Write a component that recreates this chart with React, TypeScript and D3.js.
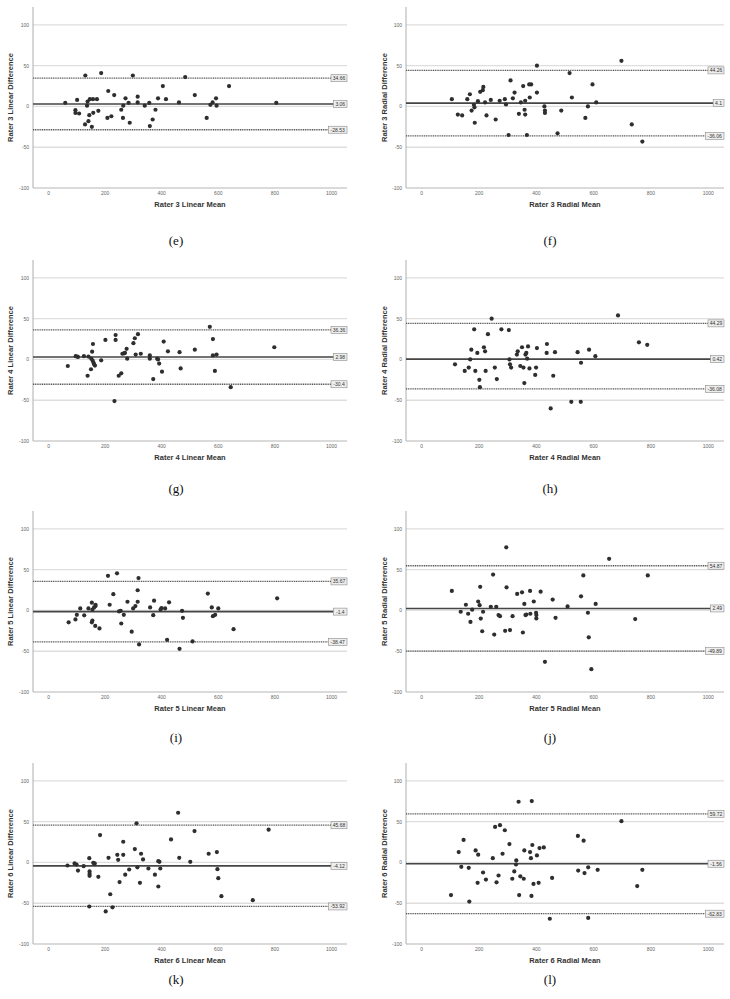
import * as d3 from "d3";

// Bland-Altman plots, raters 3-6, linear and radial (mean vs difference)
const rater3Linear: [number, number][] = [
  [59, 4.5], [130, 38], [186, 41], [101, 8], [95, -4.5], [95, -8], [108, -8.6], [136, 1], [138, 6],
  [146, 9], [157, 9], [171, 9], [144, -10.7], [158, -7.8], [176, -5.3], [129, -22], [141, -18],
  [153, -25], [211, 19], [232, 14], [208, -14], [222, -12], [272, 10], [257, -4], [264, 1],
  [263, -14], [283, 4.5], [287, -20], [298, 38], [315, 12], [315, 5], [340, 1], [356, 4.5],
  [358, -24], [368, -16], [378, -4], [387, 10], [404, 25], [415, 9], [461, 5], [483, 36],
  [517, 14], [559, -14], [572, 2], [580, 5], [592, 10], [594, 1], [638, 25], [805, 4.5],
];
const rater3Radial: [number, number][] = [
  [105, 9], [126, -10], [141, -11], [159, 9], [168, 15], [174, -5], [182, 2], [184, -1], [185, -20],
  [196, 6.5], [204, 18], [213, 20], [215, 24], [221, 5], [226, -11], [241, 8], [258, -16], [272, 7],
  [290, 9], [294, 2.5], [303, -35], [310, 32], [318, 10], [324, 17], [339, -9], [346, 5], [354, 25],
  [359, -4], [361, 7], [361, -10], [367, -35], [375, 27], [382, 27], [377, 11], [402, 50], [402, 17],
  [428, 0], [430, -5], [430, -8], [474, -33], [487, -5], [516, 41], [524, 11], [571, -14], [580, 0],
  [596, 27], [609, 5], [697, 56], [733, -22], [770, -43],
];
const rater4Linear: [number, number][] = [
  [68, -8], [96, 4], [102, 3.5], [104, 3], [125, 4], [138, -20], [141, 3.5], [150, -12], [151, 1],
  [154, 9.5], [157, 19], [156, -1.5], [159, -4], [161, -6], [164, -7.5], [186, -1], [201, 24],
  [233, -51], [237, 30], [237, 24], [248, -20], [257, -17], [261, 7], [267, 7.5], [270, 8], [276, 13],
  [278, 1], [300, 20], [305, 26], [308, 6], [316, 31], [326, 7], [358, 5], [358, 1], [370, -24],
  [384, 1], [387, 0], [391, -5], [401, -15], [407, 22], [422, 10], [463, 9], [467, -11], [517, 12],
  [570, 40], [581, 25], [581, 5], [588, -14], [594, 6], [644, -34], [798, 15],
];
const rater4Radial: [number, number][] = [
  [116, -6], [150, -14], [164, -10], [169, 0], [173, 12], [183, 37], [187, -14], [194, 8], [201, -25],
  [203, -34], [217, 15], [221, 10], [223, -14], [231, 31], [244, 50], [255, -10], [262, -24], [278, 37],
  [304, 36], [306, 0], [308, -6], [312, -10], [332, 6], [335, 10], [344, -8], [350, 15], [355, -10],
  [358, -29], [362, 6], [365, 8], [368, 1], [371, 16], [376, -11], [396, -19], [399, -10], [402, 14],
  [437, 19], [436, 8], [450, -60], [459, -20], [465, 9], [522, -52], [544, 9], [556, -4], [555, -52],
  [584, 12], [606, 4], [685, 54], [758, 21], [787, 18],
];
const rater5Linear: [number, number][] = [
  [71, -14.5], [95, -11], [100, -5.4], [112, 2.5], [126, -6], [141, 2.5], [153, 9.5], [155, 1],
  [153, -14.5], [155, -12.4], [161, 3.7], [166, 7], [166, 5.4], [165, -19], [180, -22], [210, 42.5],
  [216, 7], [229, 20], [242, 45.5], [249, -1.2], [255, -0.4], [257, -16], [266, -5.4], [279, 10.7],
  [294, -26], [299, 2.5], [307, 5.4], [315, 10.7], [315, 24.8], [318, 39.7], [320, -41.7], [359, 3.7],
  [370, -5.8], [373, 12], [396, 1.2], [399, 2.9], [412, 2.5], [419, -36], [426, 10], [463, -47],
  [472, -0.4], [475, -9], [509, -38], [563, 20.7], [577, 3.7], [581, -7], [589, -5.4], [600, 2.5],
  [654, -23], [808, 14.9],
];
const rater5Radial: [number, number][] = [
  [105, 24], [136, -1.6], [154, 7], [162, -4], [170, -14], [176, 1], [197, 11], [202, 6.5], [204, 29],
  [206, -10], [211, -25.5], [214, -1.6], [241, 4.5], [249, 44], [253, -29.6], [260, 4.5], [268, -5.7],
  [273, -7], [291, -25], [296, 28.4], [295, 77.5], [308, -24], [317, -7], [333, 20.3], [350, 22.3],
  [353, -27], [358, 8], [362, -5.7], [365, -5], [378, 24], [379, -4], [391, 11], [399, -2.8],
  [400, -5.7], [400, -9.7], [415, 23], [430, -63], [457, 13.4], [467, -9], [509, 4.9], [556, 17.4],
  [564, 43], [580, -2.8], [583, -33], [592, -72], [607, 8], [654, 63.3], [745, -10.5], [789, 43],
];
const rater6Linear: [number, number][] = [
  [67, -3.7], [92, -1.2], [99, -2.5], [104, -10], [124, -4.5], [144, 5.3], [145, -11], [145, -14],
  [145, -16.4], [144, -54], [158, -0.4], [162, -1.6], [163, -1.2], [176, -17.6], [182, 33.6],
  [202, -60], [212, 5.7], [218, -39], [226, -55], [243, 9.4], [246, 3.3], [251, -24], [264, 25.4],
  [264, 9.4], [271, -15], [285, -8.6], [305, 16.4], [311, 48], [314, -6], [323, -25], [327, 10.7],
  [334, 3.7], [353, -7.4], [376, -15], [388, 1.6], [388, -29.5], [392, 0.8], [395, -7.4], [433, 28.3],
  [458, 61], [462, 5.7], [501, 0.8], [516, 38.5], [566, 10.7], [595, 12.7], [597, -8.2], [600, -19.3],
  [611, -41.4], [722, -46.3], [778, 40.2],
];
const rater6Radial: [number, number][] = [
  [102, -40], [129, 12.8], [138, -5.3], [146, 27.6], [164, -6.6], [166, -48], [188, 14.8], [197, 9.5],
  [195, -25], [214, -12.3], [224, -21], [248, 5.3], [256, 43.6], [261, -24.3], [268, -16], [273, 45.7],
  [282, 10.7], [290, 39.5], [306, 22.6], [316, -20], [323, -11], [330, 2.5], [329, -2.5], [338, 74.5],
  [340, -40], [344, -17], [356, -20], [358, 14.8], [378, 12.8], [381, 5.3], [384, 75.3], [383, -41],
  [386, 21.4], [390, -26.3], [402, 8.6], [408, -25], [411, 17.7], [426, 18.5], [447, -69], [455, -19],
  [545, 32.5], [546, -9.9], [565, 26.7], [568, -13], [581, -68], [581, -6], [614, -9], [697, 50.6],
  [752, -29], [770, -9],
];

const panelData = [rater3Linear, rater3Radial, rater4Linear, rater4Radial, rater5Linear, rater5Radial, rater6Linear, rater6Radial];
const raters = [3, 3, 4, 4, 5, 5, 6, 6];
const kinds = ["Linear", "Radial", "Linear", "Radial", "Linear", "Radial", "Linear", "Radial"];
const captions = ["(e)", "(f)", "(g)", "(h)", "(i)", "(j)", "(k)", "(l)"];
const upperLimits = [34.66, 44.26, 36.36, 44.29, 35.67, 54.87, 45.68, 59.72];
const meanDiffs = [3.06, 4.1, 2.98, 0.42, -1.4, 2.49, -4.12, -1.56];
const lowerLimits = [-28.53, -36.06, -30.4, -36.08, -38.47, -49.89, -53.92, -62.83];
const yTicks = [100, 50, 0, -50, -100];
const xTicks = [0, 200, 400, 600, 800, 1000];

// layout
const colLeft = [33, 406];
const colWidth = [314, 318];
const rowBottom = [188, 441, 692, 944];
const captionY = [240, 488, 737, 979];
const captionX = [176, 550];
const yTitleX = [10, 384];
const plotH = 181;
const xDomain = [-55, 1055];
const yDomain = [-100, 122];

const sans = "'Liberation Sans', Arial, sans-serif";

function RefLine({ x0, x1, y, label, solid }: any) {
  const boxW = label.length * 2.6 + 3;
  return (
    <g>
      <line x1={x0} x2={x1 - boxW} y1={y} y2={y} stroke={solid ? "#454545" : "#555"}
        strokeWidth={solid ? 1.6 : 1.3} strokeDasharray={solid ? undefined : "1.1,0.7"} />
      <rect x={x1 - boxW} y={y - 3.5} width={boxW} height={7} fill="#eeeeee" stroke="#8a8a8a" strokeWidth={0.6} />
      <text x={x1 - boxW / 2} y={y + 1.9} fontSize={5} textAnchor="middle" fill="#333" fontFamily={sans}>{label}</text>
    </g>
  );
}

function Panel({ idx }: { idx: number }) {
  const col = idx % 2;
  const row = Math.floor(idx / 2);
  const left = colLeft[col];
  const right = left + colWidth[col];
  const bottom = rowBottom[row];
  const top = bottom - plotH;
  const x = d3.scaleLinear().domain(xDomain).range([left, right]);
  const y = d3.scaleLinear().domain(yDomain).range([bottom, top]);
  const pts = panelData[idx];
  return (
    <g>
      {yTicks.filter((t) => t !== -100).map((t) => (
        <line key={t} x1={left} x2={right} y1={y(t)} y2={y(t)} stroke="#dedede" strokeWidth={1.3} />
      ))}
      <line x1={left} x2={left} y1={top} y2={bottom} stroke="#9a9a9a" strokeWidth={0.8} />
      <line x1={left} x2={right} y1={bottom} y2={bottom} stroke="#b5b5b5" strokeWidth={1} />
      {yTicks.map((t) => (
        <text key={t} x={left - 4} y={y(t) + 1.8} fontSize={5} textAnchor="end" fill="#666" fontFamily={sans}>{t}</text>
      ))}
      {xTicks.map((t) => (
        <text key={t} x={x(t)} y={bottom + 7} fontSize={5} textAnchor="middle" fill="#666" fontFamily={sans}>{t}</text>
      ))}
      <RefLine x0={left} x1={right} y={y(upperLimits[idx])} label={String(upperLimits[idx])} />
      <RefLine x0={left} x1={right} y={y(lowerLimits[idx])} label={String(lowerLimits[idx])} />
      <RefLine x0={left} x1={right} y={y(meanDiffs[idx])} label={String(meanDiffs[idx])} solid />
      {pts.map((d, k) => (
        <circle key={k} cx={x(d[0])} cy={y(d[1])} r={2.1} fill="#2e2e2e" />
      ))}
      <text x={(left + right) / 2} y={bottom + 19} fontSize={7.5} fontWeight="bold" textAnchor="middle"
        fill="#333" fontFamily={sans}>{`Rater ${raters[idx]} ${kinds[idx]} Mean`}</text>
      <text transform={`translate(${yTitleX[col] + 2.5},${(top + bottom) / 2}) rotate(-90)`} fontSize={7.5}
        fontWeight="bold" textAnchor="middle" fill="#333" fontFamily={sans}>{`Rater ${raters[idx]} ${kinds[idx]} Difference`}</text>
      <text x={captionX[col]} y={captionY[row] + 4.5} fontSize={13} textAnchor="middle" fill="#111"
        fontFamily="'Liberation Serif', 'Times New Roman', serif">{captions[idx]}</text>
    </g>
  );
}

export default function App() {
  return (
    <svg width={730} height={999} style={{ position: "absolute", left: 0, top: 0, background: "#fff" }}>
      <rect width={730} height={999} fill="#fff" />
      {panelData.map((_, i) => (
        <Panel key={i} idx={i} />
      ))}
    </svg>
  );
}
